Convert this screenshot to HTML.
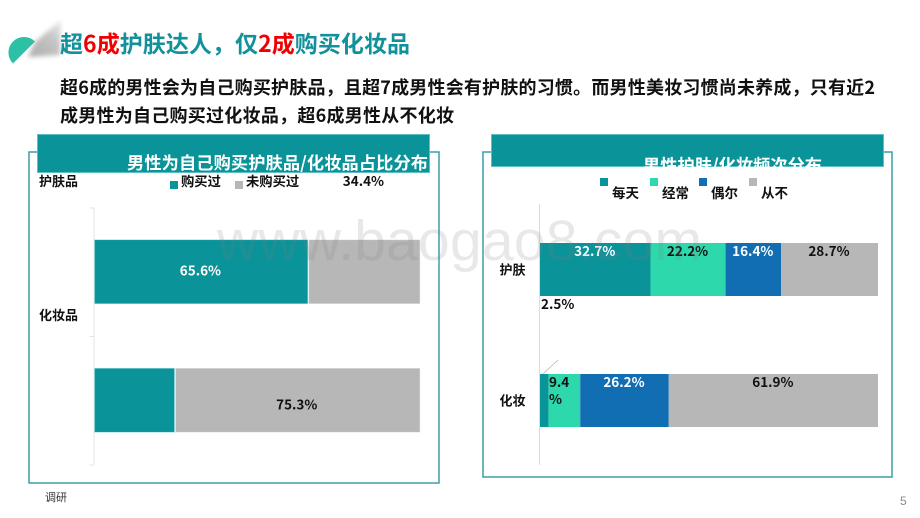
<!DOCTYPE html>
<html lang="zh">
<head>
<meta charset="utf-8">
<title>超6成护肤达人，仅2成购买化妆品</title>
<style>
html,body{margin:0;padding:0;background:#fff;width:920px;height:518px;overflow:hidden}
svg{display:block}
text{font-family:"Liberation Sans","Noto Sans CJK SC",sans-serif}
.cjk{font-family:"Noto Sans CJK SC","Liberation Sans",sans-serif;font-weight:700}
</style>
</head>
<body>
<svg id="slide" xmlns="http://www.w3.org/2000/svg" width="920" height="518" viewBox="0 0 920 518">
  <defs>
    <filter id="soft" x="-30%" y="-30%" width="160%" height="160%"><feGaussianBlur stdDeviation="2.5"/></filter>
    <linearGradient id="shadeGrad" x1="0" y1="1" x2="1" y2="0">
      <stop offset="0" stop-color="#adadad"/><stop offset="0.6" stop-color="#c4c4c4"/><stop offset="1" stop-color="#ececec"/>
    </linearGradient>
    <clipPath id="bandClip"><rect x="491" y="134" width="393" height="33"/></clipPath>
  </defs>
  <rect width="920" height="518" fill="#fff"/>

  <g>
    <polygon points="35,42 61,20 60,55 28,57" fill="url(#shadeGrad)" filter="url(#soft)"/>
    <path d="M13 63.5 A15.5 15.5 0 0 1 35 41.5 Z" fill="#2cc0a6"/>
  </g>

  <text class="cjk" x="60" y="52" font-size="23" textLength="350" fill="#12909b">超<tspan fill="#f00000">6成</tspan>护肤达人，仅<tspan fill="#f00000">2成</tspan>购买化妆品</text>
  <text class="cjk" x="60" y="94" font-size="18" textLength="815" fill="#111">超6成的男性会为自己购买护肤品，且超7成男性会有护肤的习惯。而男性美妆习惯尚未养成，只有近2</text>
  <text class="cjk" x="60" y="122" font-size="18" textLength="394" fill="#111">成男性为自己购买过化妆品，超6成男性从不化妆</text>

  <rect x="29" y="152" width="410" height="331" fill="#fff" stroke="#3a9fa6" stroke-width="1.5"/>
  <rect x="37.5" y="134.5" width="392" height="38" fill="#0a9399" stroke="#5cc0c4" stroke-width="1"/>
  <text class="cjk" x="127" y="169" font-size="17.2" textLength="301" fill="#fff">男性为自己购买护肤品/化妆品占比分布</text>

  <rect x="483" y="152" width="409" height="325" fill="#fff" stroke="#3a9fa6" stroke-width="1.5"/>
  <rect x="491.5" y="134.5" width="392" height="32" fill="#0a9399" stroke="#5cc0c4" stroke-width="1"/>
  <g clip-path="url(#bandClip)">
    <text class="cjk" x="643" y="171.5" font-size="17.2" textLength="179" fill="#fff">男性护肤/化妆频次分布</text>
  </g>

  <g id="leftChart"></g>
  <g id="rightChart"></g>

  <text x="217" y="260" font-size="57" textLength="485" fill="#808080" fill-opacity="0.18">www.baogao8.com</text>

  <text x="45" y="501" font-size="11" fill="#333" style="font-family:'Noto Sans CJK SC',sans-serif">调研</text>
  <text x="900" y="505" font-size="12" fill="#8a8a8a">5</text>
</svg>

<script>
var leftCategories = ['护肤品', '化妆品'];
var leftSeriesNames = ['购买过', '未购买过'];
var leftBought = [65.6, 24.7];
var leftNotBought = [34.4, 75.3];
var leftBoughtLabels = ['65.6%', ''];
var leftNotBoughtLabels = ['34.4%', '75.3%'];

var rightCategories = ['护肤', '化妆'];
var rightSeriesNames = ['每天', '经常', '偶尔', '从不'];
var rightDaily = [32.7, 2.5];
var rightOften = [22.2, 9.4];
var rightSometimes = [16.4, 26.2];
var rightNever = [28.7, 61.9];

var NS = 'http://www.w3.org/2000/svg';
var TEAL = '#0a9399', MINT = '#2dd9ac', BLUE = '#126eb2', GRAY = '#b7b7b7';

function make(parent, tag, attrs) {
  var el = document.createElementNS(NS, tag);
  for (var k in attrs) el.setAttribute(k, attrs[k]);
  parent.appendChild(el);
  return el;
}
function label(parent, x, y, str, size, fill, anchor) {
  var t = make(parent, 'text', {x: x, y: y, 'font-size': size, fill: fill, 'text-anchor': anchor || 'middle', 'class': 'cjk'});
  t.textContent = str;
  return t;
}

/* ---------- left chart ---------- */
(function () {
  var g = document.getElementById('leftChart');
  var x0 = 94.5, plotW = 326, rowTop = 208, rowH = 128.5, barH = 64;
  function xScale(v) { return v / 100 * plotW; }
  function barTop(i) { return rowTop + i * rowH + (rowH - barH) / 2 - 0.5; }

  var axis = make(g, 'line', {x1: x0 - 0.5, y1: rowTop, x2: x0 - 0.5, y2: rowTop + 2 * rowH, stroke: '#e4e4e4', 'stroke-width': 1});
  
  
  for (var k = 0; k <= leftCategories.length; k++) {
    var tk = make(g, 'line', {x1: x0 - 5, y1: rowTop + k * rowH, x2: x0, y2: rowTop + k * rowH, stroke: '#e4e4e4', 'stroke-width': 1});
    
    
  }

  leftCategories.forEach(function (cat, i) {
    var top = barTop(i), w1 = xScale(leftBought[i]), w2 = xScale(leftNotBought[i]);
    var a = make(g, 'rect', {x: x0, y: top, width: w1 - 0.5, height: barH, fill: TEAL, stroke: '#9fdfe2', 'stroke-width': 0.6});
    
    
    var b = make(g, 'rect', {x: x0 + w1 + 0.5, y: top, width: w2 - 1, height: barH, fill: GRAY, stroke: '#e6e6e6', 'stroke-width': 0.6});
    
    

    if (leftBoughtLabels[i]) {
      var l1 = label(g, x0 + w1 / 2 - 1, top + barH / 2 + 3.5, leftBoughtLabels[i], 13.5, '#fff');
      
      
    }
    var ly = i === 0 ? top - 54 : top + barH / 2 + 9;
    var l2 = label(g, x0 + w1 + w2 / 2 - 1, ly, leftNotBoughtLabels[i], 13.5, '#111');
    
    

    var c = label(g, 39, i === 0 ? 186 : 320, cat, 13, '#111', 'start');
    
    
  });

  var colors = [TEAL, GRAY];
  var lx = [170, 235];
  leftSeriesNames.forEach(function (n, i) {
    var s = make(g, 'rect', {x: lx[i], y: 181, width: 8, height: 8, fill: colors[i]});
    
    
    var t = label(g, lx[i] + 11, 186, n, 13.3, '#111', 'start');
    
    
  });
})();

/* ---------- right chart ---------- */
(function () {
  var g = document.getElementById('rightChart');
  var x0 = 540, plotW = 338, barTops = [243, 374], barH = 53;
  var series = [rightDaily, rightOften, rightSometimes, rightNever];
  var colors = [TEAL, MINT, BLUE, GRAY];
  var textColors = ['#fff', '#111', '#fff', '#111'];
  function xScale(v) { return v / 100 * plotW; }
  function fmt(v) { return v.toFixed(1) + '%'; }

  var axis = make(g, 'line', {x1: x0 - 0.5, y1: 204, x2: x0 - 0.5, y2: 465, stroke: '#dcdcdc', 'stroke-width': 1});
  
  

  rightCategories.forEach(function (cat, i) {
    var acc = 0, top = barTops[i];
    series.forEach(function (vals, s) {
      var x = x0 + xScale(acc), w = xScale(vals[i]);
      var r = make(g, 'rect', {x: x, y: top, width: w, height: barH, fill: colors[s]});
      
      
      acc += vals[i];
    });
    var c = label(g, 499.5, top + barH / 2 + 5, cat, 13, '#111', 'start');
    
    
  });

  rightCategories.forEach(function (cat, i) {
    var acc = 0, top = barTops[i];
    series.forEach(function (vals, s) {
      var x = x0 + xScale(acc), w = xScale(vals[i]);
      var str = fmt(vals[i]), t;
      if (i === 1 && s === 0) {
        t = label(g, x0 + 1, top - 65, str, 13.5, '#111', 'start');
        var leader = make(g, 'line', {x1: x + 3, y1: top, x2: x + 18, y2: top - 14, stroke: '#b5b5b5', 'stroke-width': 0.8});
        
        
      } else if (i === 1 && s === 1) {
        t = label(g, x + 0.5, top + 13, str.slice(0, 3), 13.5, '#111', 'start');
        var t2 = label(g, x + 0.5, top + 30, str.slice(3), 13.5, '#111', 'start');
        
        
      } else {
        t = label(g, x + w / 2 - 0.5, top + 13, str, 13.5, textColors[s]);
      }
      
      
      acc += vals[i];
    });
  });

  var sx = [600, 650, 699, 749];
  rightSeriesNames.forEach(function (n, i) {
    var s = make(g, 'rect', {x: sx[i], y: 178, width: 8, height: 8, fill: colors[i]});
    
    
    var t = label(g, sx[i] + 12, 198, n, 13.5, '#111', 'start');
    
    
  });
})();
</script>
</body>
</html>
